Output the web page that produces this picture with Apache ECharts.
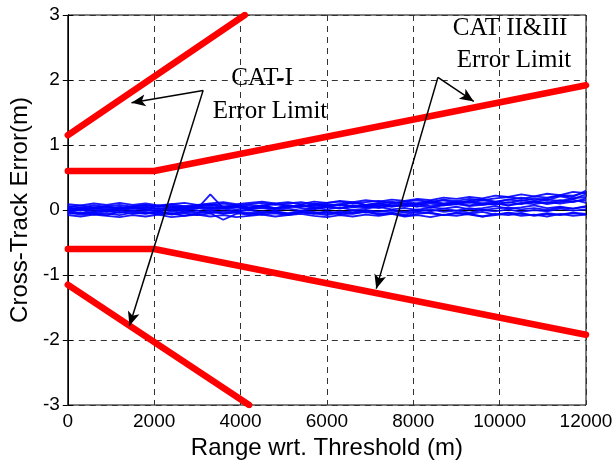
<!DOCTYPE html>
<html>
<head>
<meta charset="utf-8">
<script src="https://cdn.jsdelivr.net/npm/echarts@6/dist/echarts.min.js"></script>
<style>html,body{margin:0;padding:0;background:#fff;}#c{width:616px;height:466px;}</style>
</head>
<body>
<div id="c"></div>
<script>
// ---- data ----
var xTicks = [0, 2000, 4000, 6000, 8000, 10000, 12000];
var yTicks = [-3, -2, -1, 0, 1, 2, 3];

// Error limit lines [range, error]
var catIUpper = [[0, 1.15], [4100, 3.0]];
var catILower = [[0, -1.15], [4200, -3.0]];
var catIIUpper = [[0, 0.6], [2000, 0.6], [12000, 1.92]];
var catIILower = [[0, -0.6], [2000, -0.6], [12000, -1.92]];

// Range samples for cross-track error traces
var rangeX = [0,300,600,900,1200,1500,1800,2100,2400,2700,3000,3300,3600,3900,4200,4500,4800,5100,5400,5700,6000,6300,6600,6900,7200,7500,7800,8100,8400,8700,9000,9300,9600,9900,10200,10500,10800,11100,11400,11700,12000];

var trace1 = [0.05,0.07,0.04,0.06,0.08, 0.05,0.07,0.06,0.09,0.06, 0.08,0.07,0.10,0.07,0.09, 0.11,0.08,0.10,0.12,0.09, 0.11,0.13,0.10,0.12,0.14, 0.11,0.13,0.15,0.12,0.16, 0.14,0.17,0.15,0.18,0.20, 0.17,0.21,0.19,0.23,0.22, 0.27];
var trace2 = [0.02,-0.01,0.03,0.00,0.02, 0.04,0.01,0.03,0.00,0.02, 0.05,0.02,0.04,0.01,0.03, 0.06,0.02,0.04,0.07,0.03, 0.05,0.02,0.06,0.04,0.07, 0.05,0.08,0.06,0.04,0.07, 0.09,0.06,0.08,0.10,0.07, 0.11,0.09,0.12,0.10,0.13, 0.15];
var trace3 = [-0.03,0.00,-0.05,-0.02,-0.04, -0.01,-0.03,-0.06,-0.02,-0.04, -0.01,-0.05,-0.02,-0.03,0.00, -0.04,-0.02,-0.05,-0.01,-0.03, -0.06,-0.02,-0.04,0.00,-0.03, -0.01,-0.04,-0.02,0.01,-0.03, -0.01,-0.04,0.00,-0.02,0.01, -0.03,0.00,-0.02,0.02,-0.01, 0.01];
var trace4 = [0.00,0.03,0.01,-0.02,0.02, 0.04,0.01,-0.01,0.03,0.00, 0.02,0.24,0.03,0.05,0.01, 0.04,0.02,0.06,0.03,0.01, 0.05,0.08,0.04,0.06,0.03, 0.07,0.05,0.09,0.06,0.08, 0.11,0.07,0.10,0.08,0.12, 0.09,0.13,0.11,0.15,0.12, 0.18];
var trace5 = [-0.06,-0.04,-0.07,-0.05,-0.08, -0.04,-0.06,-0.03,-0.07,-0.05, -0.08,-0.05,-0.15,-0.06,-0.04, -0.07,-0.05,-0.08,-0.04,-0.06, -0.03,-0.07,-0.05,-0.02,-0.06, -0.04,-0.07,-0.03,-0.05,-0.08, -0.04,-0.06,-0.03,-0.07,-0.04, -0.06,-0.08,-0.05,-0.07,-0.04, -0.06];
var trace6 = [0.03,0.01,0.04,0.02,0.05, 0.02,0.04,0.01,0.05,0.03, 0.06,0.03,0.05,0.08,0.04, 0.06,0.03,0.07,0.05,0.08, 0.06,0.09,0.05,0.08,0.11, 0.07,0.10,0.08,0.12,0.09, 0.11,0.14,0.10,0.13,0.11, 0.15,0.12,0.16,0.14,0.18, 0.20];
var trace7 = [-0.02,-0.05,-0.03,-0.01,-0.04, -0.02,-0.05,-0.03,-0.06,-0.02, -0.04,-0.01,-0.05,-0.03,-0.06, -0.02,-0.04,-0.07,-0.03,-0.05, -0.08,-0.04,-0.06,-0.03,-0.07, -0.05,-0.09,-0.06,-0.04,-0.08, -0.05,-0.07,-0.10,-0.06,-0.08, -0.05,-0.09,-0.06,-0.08,-0.05, -0.07];
var trace8 = [0.06,0.04,0.07,0.05,0.03, 0.06,0.08,0.05,0.07,0.04, 0.07,0.09,0.06,0.04,0.08, 0.06,0.09,0.07,0.05,0.10, 0.07,0.09,0.12,0.08,0.10, 0.13,0.09,0.11,0.14,0.10, 0.13,0.11,0.15,0.12,0.16, 0.14,0.18,0.15,0.21,0.17, 0.24];
var trace9 = [-0.01,0.02,-0.02,0.01,-0.01, 0.02,0.00,-0.03,0.01,-0.01, 0.03,0.00,0.02,-0.02,0.01, 0.03,0.00,0.02,-0.01,0.03, 0.01,0.04,0.00,0.02,0.05, 0.01,0.03,0.00,0.04,0.02, 0.05,0.01,0.03,0.06,0.02, 0.04,0.07,0.03,0.05,0.02, 0.06];
var trace10 = [0.01,0.04,0.02,0.05,0.01, 0.03,0.05,0.02,0.04,0.06, 0.03,0.05,0.02,0.06,0.04, 0.07,0.03,0.05,0.08,0.04, 0.06,0.03,0.07,0.05,0.09, 0.06,0.08,0.05,0.10,0.07, 0.09,0.12,0.08,0.11,0.07, 0.10,0.13,0.09,0.12,0.16, 0.11];
var trace11 = [-0.04,-0.07,-0.05,-0.08,-0.03, -0.06,-0.04,-0.07,-0.05,-0.09, -0.05,-0.03,-0.06,-0.04,-0.08, -0.05,-0.02,-0.06,-0.03,-0.05, -0.02,-0.05,-0.01,-0.04,-0.02, 0.00,-0.03,0.01,-0.02,0.02, -0.01,0.03,0.00,0.02,0.04, 0.01,0.03,0.00,0.04,0.02, 0.05];
var trace12 = [0.04,0.01,0.03,0.06,0.02, 0.05,0.03,0.07,0.04,0.02, 0.05,0.08,0.04,0.06,0.03, 0.07,0.10,0.05,0.08,0.06, 0.09,0.07,0.11,0.08,0.06, 0.10,0.13,0.09,0.12,0.15, 0.11,0.14,0.17,0.13,0.16, 0.19,0.15,0.18,0.22,0.20, 0.30];
var trace13 = [0.09,0.07,0.10,0.08,0.11, 0.08,0.10,0.07,0.09,0.11, 0.08,0.10,0.12,0.09,0.11, 0.13,0.10,0.12,0.09,0.13, 0.11,0.14,0.12,0.15,0.13, 0.16,0.14,0.17,0.15,0.19, 0.17,0.20,0.18,0.22,0.20, 0.24,0.21,0.25,0.23,0.28, 0.26];
var trace14 = [-0.08,-0.10,-0.07,-0.09,-0.11, -0.08,-0.10,-0.07,-0.11,-0.09, -0.07,-0.10,-0.08,-0.11,-0.09, -0.07,-0.10,-0.08,-0.06,-0.09, -0.11,-0.08,-0.10,-0.07,-0.09, -0.06,-0.10,-0.08,-0.11,-0.07, -0.09,-0.06,-0.10,-0.08,-0.05, -0.09,-0.07,-0.10,-0.06,-0.09, -0.07];
var traces = [trace1, trace2, trace3, trace4, trace5, trace6, trace7, trace8, trace9, trace10, trace11, trace12, trace13, trace14];

// Annotation arrows: [from, to] in data coords
var arrowsCatI = [[[3134, 1.84], [1475, 1.65]], [[3134, 1.84], [1429, -1.78]]];
var arrowsCatII = [[[8571, 2.04], [9401, 1.67]], [[8571, 2.04], [7143, -1.21]]];

// ---- chart ----
var chart = echarts.init(document.getElementById('c'), null, {renderer: 'canvas'});
var sansFont = 'Liberation Sans, Arial, sans-serif';
var serifFont = 'Liberation Serif, Times New Roman, serif';

var series = [];
traces.forEach(function (t) {
  series.push({
    type: 'line', showSymbol: false, symbol: 'none', silent: true,
    data: rangeX.map(function (x, i) { return [x, t[i]]; }),
    lineStyle: {color: '#0000ff', width: 1.8, opacity: 0.9},
    z: 2
  });
});
[catIUpper, catILower, catIIUpper, catIILower].forEach(function (d) {
  series.push({
    type: 'line', showSymbol: false, symbol: 'none', silent: true,
    data: d,
    lineStyle: {color: '#ff0000', width: 6.5, cap: 'round', join: 'round'},
    z: 3
  });
});
var arrowData = arrowsCatI.concat(arrowsCatII).map(function (a) {
  return [{coord: a[0], symbol: 'none'}, {coord: a[1], symbol: 'arrow', symbolSize: [9, 14]}];
});
series.push({
  type: 'line', data: [[0, 0]], showSymbol: false, symbol: 'none', lineStyle: {opacity: 0}, silent: true, z: 5,
  markLine: {
    silent: true, animation: false,
    symbol: ['none', 'arrow'], symbolSize: 12,
    label: {show: false},
    itemStyle: {color: '#000'},
    lineStyle: {color: '#000', width: 1.5, type: 'solid', opacity: 1},
    emphasis: {disabled: true},
    data: arrowData
  }
});

var option = {
  animation: false,
  backgroundColor: '#fff',
  grid: {left: 65, right: 30, top: 15, bottom: 61, show: true, borderColor: '#000', borderWidth: 1},
  xAxis: [{
    type: 'value', min: 0, max: 12000, interval: 2000,
    name: 'Range wrt. Threshold (m)', nameLocation: 'middle', nameGap: 29,
    nameTextStyle: {fontFamily: sansFont, fontSize: 24, color: '#000'},
    axisLine: {show: true, lineStyle: {color: '#000', width: 1}},
    axisTick: {show: true, inside: true, length: 5, lineStyle: {color: '#000'}},
    axisLabel: {fontFamily: sansFont, fontSize: 19, color: '#000', margin: 7,
      formatter: function (v) { return xTicks.indexOf(v) >= 0 ? String(v) : ''; }},
    splitLine: {show: true, lineStyle: {color: '#333', width: 1, type: [6, 5]}}
  }, {
    type: 'value', position: 'top', min: 0, max: 12000, interval: 2000,
    axisLine: {show: true, lineStyle: {color: '#000'}},
    axisTick: {show: true, inside: true, length: 5, lineStyle: {color: '#000'}},
    axisLabel: {show: false}, splitLine: {show: false}
  }],
  yAxis: [{
    type: 'value', min: -3, max: 3, interval: 1,
    name: 'Cross-Track Error(m)', nameLocation: 'middle', nameGap: 31,
    nameTextStyle: {fontFamily: sansFont, fontSize: 24, color: '#000'},
    axisLine: {show: true, lineStyle: {color: '#000', width: 1}},
    axisTick: {show: true, inside: true, length: 5, lineStyle: {color: '#000'}},
    axisLabel: {fontFamily: sansFont, fontSize: 19, color: '#000', margin: 8,
      formatter: function (v) { return yTicks.indexOf(v) >= 0 ? String(v) : ''; }},
    splitLine: {show: true, lineStyle: {color: '#333', width: 1, type: [6, 5]}}
  }, {
    type: 'value', position: 'right', min: -3, max: 3, interval: 1,
    axisLine: {show: true, lineStyle: {color: '#000'}},
    axisTick: {show: true, inside: true, length: 5, lineStyle: {color: '#000'}},
    axisLabel: {show: false}, splitLine: {show: false}
  }],
  graphic: [
    {type: 'text', x: 262, y: 78, z: 10, style: {text: 'CAT-I', font: '25px ' + serifFont, fill: '#000', textAlign: 'center', textVerticalAlign: 'middle'}},
    {type: 'text', x: 270, y: 111, z: 10, style: {text: 'Error Limit', font: '25px ' + serifFont, fill: '#000', textAlign: 'center', textVerticalAlign: 'middle'}},
    {type: 'text', x: 510, y: 28, z: 10, style: {text: 'CAT II&III', font: '25px ' + serifFont, fill: '#000', textAlign: 'center', textVerticalAlign: 'middle'}},
    {type: 'text', x: 514, y: 60, z: 10, style: {text: 'Error Limit', font: '25px ' + serifFont, fill: '#000', textAlign: 'center', textVerticalAlign: 'middle'}}
  ],
  series: series
};
chart.setOption(option);
</script>
</body>
</html>
